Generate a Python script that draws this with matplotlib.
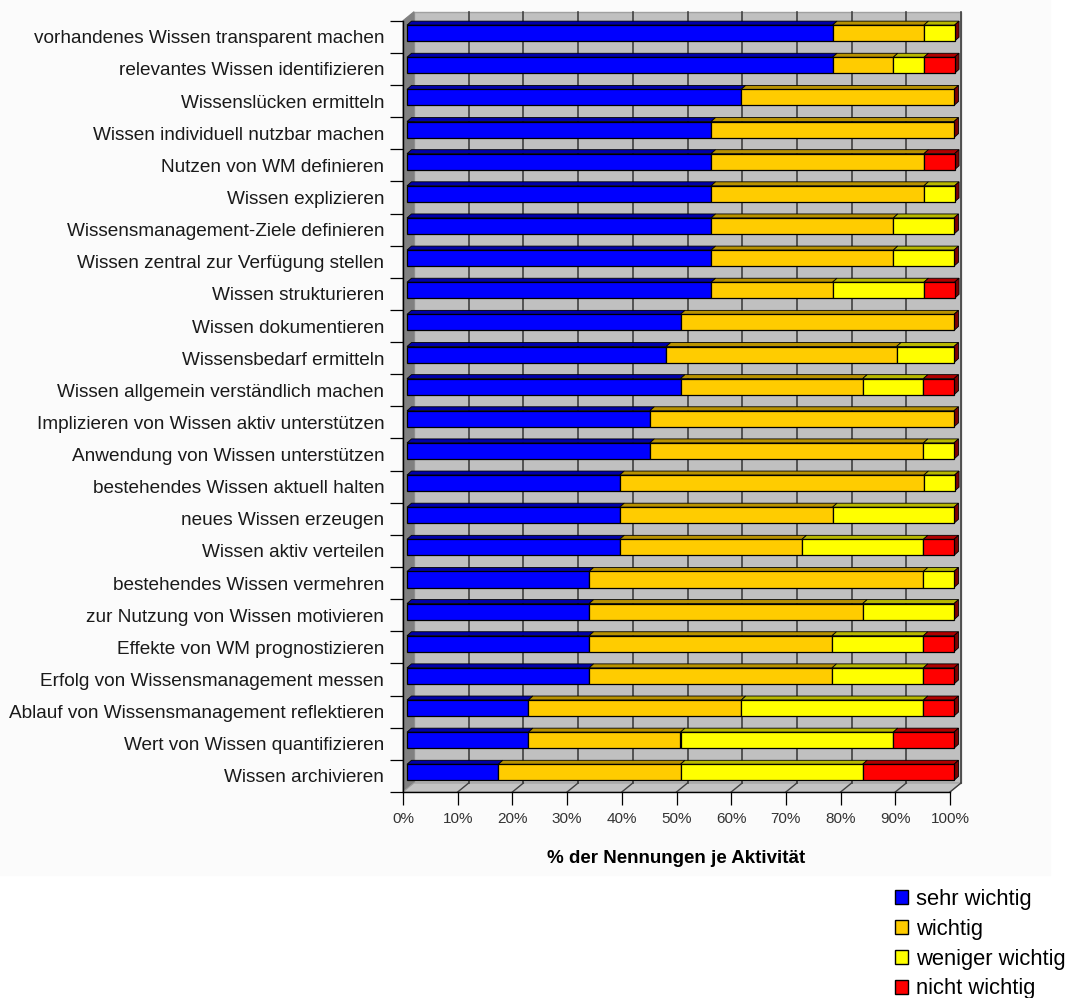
import numpy as np
import matplotlib
matplotlib.use("Agg")
import matplotlib.pyplot as plt
from matplotlib.patches import Polygon, Rectangle, Patch

plt.rcParams['font.family'] = ['Liberation Sans', 'DejaVu Sans']

# Aktivitaeten (von oben nach unten)
labels = [
    "vorhandenes Wissen transparent machen",
    "relevantes Wissen identifizieren",
    "Wissenslücken ermitteln",
    "Wissen individuell nutzbar machen",
    "Nutzen von WM definieren",
    "Wissen explizieren",
    "Wissensmanagement-Ziele definieren",
    "Wissen zentral zur Verfügung stellen",
    "Wissen strukturieren",
    "Wissen dokumentieren",
    "Wissensbedarf ermitteln",
    "Wissen allgemein verständlich machen",
    "Implizieren von Wissen aktiv unterstützen",
    "Anwendung von Wissen unterstützen",
    "bestehendes Wissen aktuell halten",
    "neues Wissen erzeugen",
    "Wissen aktiv verteilen",
    "bestehendes Wissen vermehren",
    "zur Nutzung von Wissen motivieren",
    "Effekte von WM prognostizieren",
    "Erfolg von Wissensmanagement messen",
    "Ablauf von Wissensmanagement reflektieren",
    "Wert von Wissen quantifizieren",
    "Wissen archivieren",
]

# % der Nennungen je Aktivitaet
sehr_wichtig = [77.8, 77.8, 61.1, 55.6, 55.6, 55.6, 55.6, 55.6, 55.6, 50.0, 47.4, 50.0,
                44.4, 44.4, 38.9, 38.9, 38.9, 33.3, 33.3, 33.3, 33.3, 22.2, 22.2, 16.7]
wichtig = [16.7, 11.1, 38.9, 44.4, 38.9, 38.9, 33.3, 33.3, 22.2, 50.0, 42.1, 33.3,
           55.6, 50.0, 55.6, 38.9, 33.3, 61.1, 50.0, 44.4, 44.4, 38.9, 27.8, 33.3]
weniger_wichtig = [5.6, 5.6, 0, 0, 0, 5.6, 11.1, 11.1, 16.7, 0, 10.5, 11.1,
                   0, 5.6, 5.6, 22.2, 22.2, 5.6, 16.7, 16.7, 16.7, 33.3, 38.9, 33.3]
nicht_wichtig = [0, 5.6, 0, 0, 5.6, 0, 0, 0, 5.6, 0, 0, 5.6,
                 0, 0, 0, 0, 5.6, 0, 0, 5.6, 5.6, 5.6, 11.1, 16.7]

series_names = ["sehr wichtig", "wichtig", "weniger wichtig", "nicht wichtig"]
series = [sehr_wichtig, wichtig, weniger_wichtig, nicht_wichtig]
front_colors = ["#0000ff", "#ffcc00", "#ffff00", "#ff0000"]
top_colors = ["#0000a8", "#b89200", "#b8b800", "#b00000"]
side_color = "#800000"

fig = plt.figure(figsize=(10.69, 9.98), dpi=100)
fig.patches.append(Rectangle((0, 1 - 875 / 998), 1050 / 1069, 875 / 998,
                             transform=fig.transFigure, color="#fbfbfb", zorder=-5))

ax = fig.add_axes([403 / 1069, (998 - 792) / 998, 547 / 1069, 771.3 / 998])
ax.set_facecolor("none")
n = len(labels)
y = np.arange(n)
ax.set_xlim(0, 100)
ax.set_ylim(n - 0.5, -0.5)

# 3D-Versatz in Datenkoordinaten
px_x = 547 / 100.0
px_y = 771.3 / n
wall_dx, wall_dy = 11 / px_x, 9 / px_y
bar_dx, bar_dy = 4 / px_x, 3.6 / px_y
top_dx, top_dy = 4.5 / px_x, 4.0 / px_y
bar_h = 0.5

# Rueckwand, Seitenwand, Boden
y0, y1 = -0.5, n - 0.5
ax.add_patch(Polygon([(wall_dx, y0 - wall_dy), (100 + wall_dx, y0 - wall_dy),
                      (100 + wall_dx, y1 - wall_dy), (wall_dx, y1 - wall_dy)],
                     closed=True, facecolor="#c0c0c0", edgecolor="#a0a0a0", lw=1,
                     clip_on=False, zorder=0.5))
ax.add_patch(Polygon([(0, y0), (wall_dx, y0 - wall_dy), (wall_dx, y1 - wall_dy), (0, y1)],
                     closed=True, facecolor="#808080", edgecolor="#808080", lw=0.8,
                     clip_on=False, zorder=0.6))
ax.add_patch(Polygon([(0, y1), (100, y1), (100 + wall_dx, y1 - wall_dy), (wall_dx, y1 - wall_dy)],
                     closed=True, facecolor="#c4c4c4", edgecolor="#a0a0a0", lw=0.8,
                     clip_on=False, zorder=0.6))
for k in range(10, 101, 10):
    ax.plot([k + wall_dx, k + wall_dx], [y0 - wall_dy, y1 - wall_dy], color="#404040",
            lw=1.2, clip_on=False, zorder=0.7)
    ax.plot([k, k + wall_dx], [y1, y1 - wall_dy], color="#404040", lw=1.0,
            clip_on=False, zorder=0.7)

# Balken
yb = y - bar_dy
left = np.zeros(n)
for vals, fc, tc in zip(series, front_colors, top_colors):
    vals = np.array(vals, dtype=float)
    m = vals > 0
    ax.barh(yb[m], vals[m], left=left[m] + bar_dx, height=bar_h, color=fc,
            edgecolor="black", lw=0.9, clip_on=False, zorder=3)
    for i in np.where(m)[0]:
        xa, xb = left[i] + bar_dx, left[i] + vals[i] + bar_dx
        yt = yb[i] - bar_h / 2
        ax.add_patch(Polygon([(xa, yt), (xb, yt), (xb + top_dx, yt - top_dy), (xa + top_dx, yt - top_dy)],
                             closed=True, facecolor=tc, edgecolor="black", lw=0.6,
                             clip_on=False, zorder=2.5))
    left += vals

for i in range(n):
    xe = left[i] + bar_dx
    yt, yu = yb[i] - bar_h / 2, yb[i] + bar_h / 2
    ax.add_patch(Polygon([(xe, yt), (xe, yu), (xe + top_dx, yu - top_dy), (xe + top_dx, yt - top_dy)],
                         closed=True, facecolor=side_color, edgecolor="black", lw=0.6,
                         clip_on=False, zorder=2.5))

# Achsen
for s in ["top", "right"]:
    ax.spines[s].set_visible(False)
for s in ["left", "bottom"]:
    ax.spines[s].set_color("black")
    ax.spines[s].set_linewidth(1.0)
    ax.spines[s].set_zorder(4)

ax.set_yticks(y)
ax.set_yticklabels(labels, fontsize=13.7, color="#1a1a1a")
ax.set_yticks(np.arange(-0.5, n), minor=True)
ax.tick_params(axis="y", which="major", length=0, pad=13.5)
ax.tick_params(axis="y", which="minor", length=9.4, width=0.9, direction="out")

ax.set_xticks(np.arange(0, 101, 10))
ax.set_xticklabels([f"{v}%" for v in range(0, 101, 10)], fontsize=11, color="#333333")
ax.tick_params(axis="x", length=9.4, width=0.9, direction="out", pad=5)
ax.set_xlabel("% der Nennungen je Aktivität", fontsize=13.5, fontweight="bold", labelpad=17)

handles = [Patch(facecolor=c, edgecolor="black", lw=1.0) for c in front_colors]
fig.legend(handles, series_names, loc="upper left", bbox_to_anchor=(895 / 1069, 1 - 889 / 998),
           frameon=False, fontsize=15.8, handlelength=0.6, handleheight=0.6,
           handletextpad=0.35, labelspacing=0.4, borderpad=0, borderaxespad=0)

fig.savefig("out.png", dpi=100)
